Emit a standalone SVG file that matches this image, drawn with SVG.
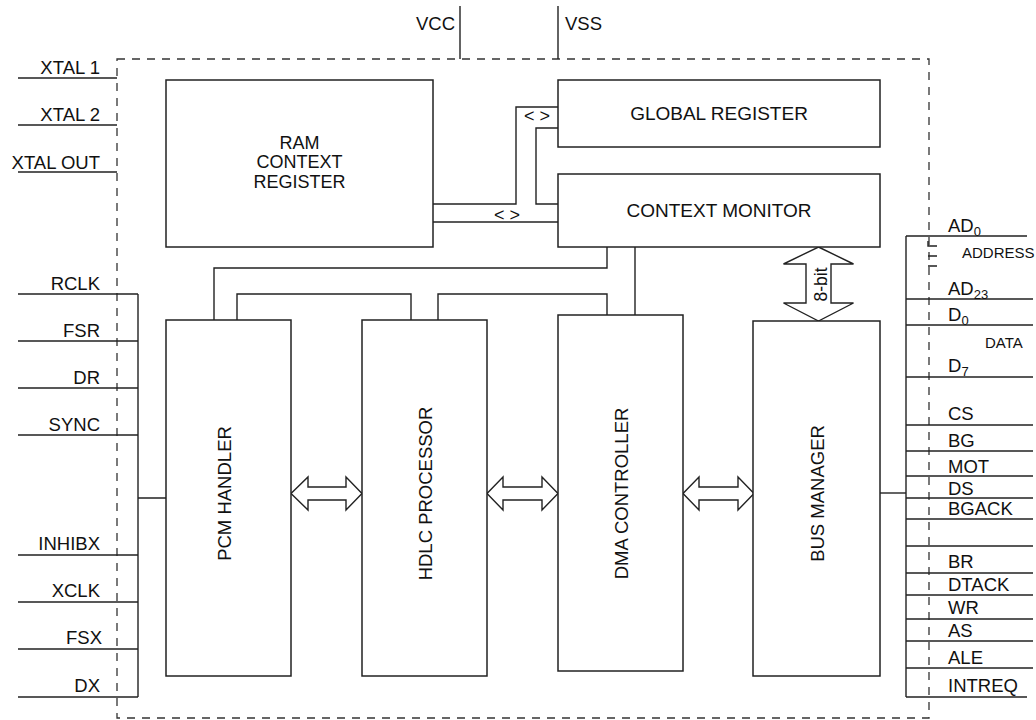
<svg xmlns="http://www.w3.org/2000/svg" width="1036" height="720" viewBox="0 0 1036 720">
  <style>
    text { font-family: "Liberation Sans", Arial, sans-serif; fill: #111; }
    .lbl { font-size: 19px; }
    .stack { font-size: 18px; }
    .vlbl { font-size: 18.5px; text-anchor: middle; }
    .pin { font-size: 18.5px; }
    .pinl { font-size: 18.5px; text-anchor: end; }
    .small { font-size: 15px; }
    .sub { font-size: 13px; }
    .mid { text-anchor: middle; }
    .box { fill: #fff; stroke: #222; stroke-width: 1.5; }
    .wire { fill: none; stroke: #222; stroke-width: 1.4; }
    .bound { fill: none; stroke: #333; stroke-width: 1.3; stroke-dasharray: 8 7; }
    .dbl { fill: #fff; stroke: #222; stroke-width: 1.4; stroke-linejoin: miter; }
  </style>

  <!-- chip boundary -->
  <rect class="bound" x="117" y="59" width="812" height="659"/>

  <!-- supply pins -->
  <g id="supply">
    <line class="wire" x1="460" y1="6" x2="460" y2="59"/>
    <line class="wire" x1="558" y1="6" x2="558" y2="59"/>
    <text x="455" y="30" text-anchor="end" style="font-size:18.5px">VCC</text>
    <text x="565" y="30" style="font-size:18.5px">VSS</text>
  </g>

  <!-- internal connectors -->
  <g id="connectors">
    <path class="wire" d="M433,204 H516 V107 H558"/>
    <path class="wire" d="M558,128 H536 V204 H558"/>
    <path class="wire" d="M433,222 H558"/>
    <path class="wire" d="M607,247 V268 H214 V320"/>
    <path class="wire" d="M635,247 V315"/>
    <path class="wire" d="M237,320 V294 H411 V320"/>
    <path class="wire" d="M438,320 V294 H607 V315"/>
    <text x="537" y="122" class="mid" style="font-size:18px">&lt; &gt;</text>
    <text x="507" y="221" class="mid" style="font-size:18px">&lt; &gt;</text>

    <!-- data path arrows -->
    <polygon class="dbl" points="291,493.5 308,477 308,487 346,487 346,477 362,493.5 346,510 346,500 308,500 308,510"/>
    <polygon class="dbl" points="487,493.5 503,477 503,487 542,487 542,477 558,493.5 542,510 542,500 503,500 503,510"/>
    <polygon class="dbl" points="683,493.5 699,477 699,487 738,487 738,477 754,493.5 738,510 738,500 699,500 699,510"/>
    <polygon class="dbl" points="818.5,247 853.5,264 831,264 831,303 853.5,303 818.5,321 783.5,303 806,303 806,264 783.5,264"/>
    <text class="mid" transform="translate(827,284.5) rotate(-90)" style="font-size:17.5px">8-bit</text>

    <!-- bus manager to pin bus -->
    <line class="wire" x1="880" y1="493" x2="906" y2="493"/>
  </g>

  <!-- function blocks -->
  <g id="ram-context-register">
    <rect class="box" x="166" y="80" width="267" height="167"/>
    <text class="stack mid" x="299.5" y="148.5">RAM</text>
    <text class="stack mid" x="299.5" y="168">CONTEXT</text>
    <text class="stack mid" x="299.5" y="187.5">REGISTER</text>
  </g>
  <g id="global-register">
    <rect class="box" x="558" y="80" width="322" height="67"/>
    <text class="lbl mid" x="719" y="120">GLOBAL REGISTER</text>
  </g>
  <g id="context-monitor">
    <rect class="box" x="558" y="174" width="322" height="73"/>
    <text class="lbl mid" x="719" y="217">CONTEXT MONITOR</text>
  </g>
  <g id="pcm-handler">
    <rect class="box" x="166" y="320" width="125" height="356"/>
    <text class="vlbl" transform="translate(230.5,493.5) rotate(-90)">PCM HANDLER</text>
  </g>
  <g id="hdlc-processor">
    <rect class="box" x="362" y="320" width="125" height="356"/>
    <text class="vlbl" transform="translate(431.5,493.5) rotate(-90)">HDLC PROCESSOR</text>
  </g>
  <g id="dma-controller">
    <rect class="box" x="558" y="315" width="125" height="356"/>
    <text class="vlbl" transform="translate(627.5,493.5) rotate(-90)">DMA CONTROLLER</text>
  </g>
  <g id="bus-manager">
    <rect class="box" x="753" y="321" width="127" height="355"/>
    <text class="vlbl" transform="translate(823.5,493.5) rotate(-90)">BUS MANAGER</text>
  </g>

  <!-- clock pins -->
  <g id="clock-pins">
    <path class="wire" d="M18,78 H117 M18,125 H117 M18,172 H117"/>
    <text class="pinl" x="100" y="74">XTAL 1</text>
    <text class="pinl" x="100" y="121">XTAL 2</text>
    <text class="pinl" x="100" y="169">XTAL OUT</text>
  </g>

  <!-- serial interface pins -->
  <g id="serial-pins">
    <path class="wire" d="M18,294 H138 M18,341 H138 M18,388 H138 M18,435 H138 M18,555 H138 M18,602 H138 M18,649 H138 M18,697 H138 M138,294 V697 M138,498 H166"/>
    <text class="pinl" x="100" y="290">RCLK</text>
    <text class="pinl" x="100" y="337">FSR</text>
    <text class="pinl" x="100" y="384">DR</text>
    <text class="pinl" x="100" y="431">SYNC</text>
    <text class="pinl" x="100" y="550">INHIBX</text>
    <text class="pinl" x="100" y="597">XCLK</text>
    <text class="pinl" x="102" y="644">FSX</text>
    <text class="pinl" x="100" y="692">DX</text>
  </g>

  <!-- system bus pins -->
  <g id="bus-pins">
    <path class="wire" d="M906,236 V697 M906,236 H1027 M906,299 H1033 M906,325 H1033 M906,377 H1033 M906,425 H1033 M906,451 H1033 M906,476 H1033 M906,498 H1033 M906,519 H1033 M906,546 H1033 M906,573 H1033 M906,595 H1033 M906,619 H1033 M906,641 H1033 M906,668 H1033 M906,697 H1027"/>
    <path class="wire" d="M928,241 V246 H937 M928,256 H937 M928,266 H937"/>
    <text class="pin" x="948" y="232">AD<tspan class="sub" dy="4">0</tspan></text>
    <text class="small" x="962" y="258">ADDRESS</text>
    <text class="pin" x="948" y="295">AD<tspan class="sub" dy="4">23</tspan></text>
    <text class="pin" x="948" y="321">D<tspan class="sub" dy="4">0</tspan></text>
    <text class="small" x="985" y="348">DATA</text>
    <text class="pin" x="948" y="372">D<tspan class="sub" dy="4">7</tspan></text>
    <text class="pin" x="948" y="420">CS</text>
    <text class="pin" x="948" y="447">BG</text>
    <text class="pin" x="948" y="473">MOT</text>
    <text class="pin" x="948" y="495">DS</text>
    <text class="pin" x="948" y="515">BGACK</text>
    <text class="pin" x="948" y="568">BR</text>
    <text class="pin" x="948" y="591">DTACK</text>
    <text class="pin" x="948" y="614">WR</text>
    <text class="pin" x="948" y="637">AS</text>
    <text class="pin" x="948" y="664">ALE</text>
    <text class="pin" x="948" y="692">INTREQ</text>
  </g>
</svg>
